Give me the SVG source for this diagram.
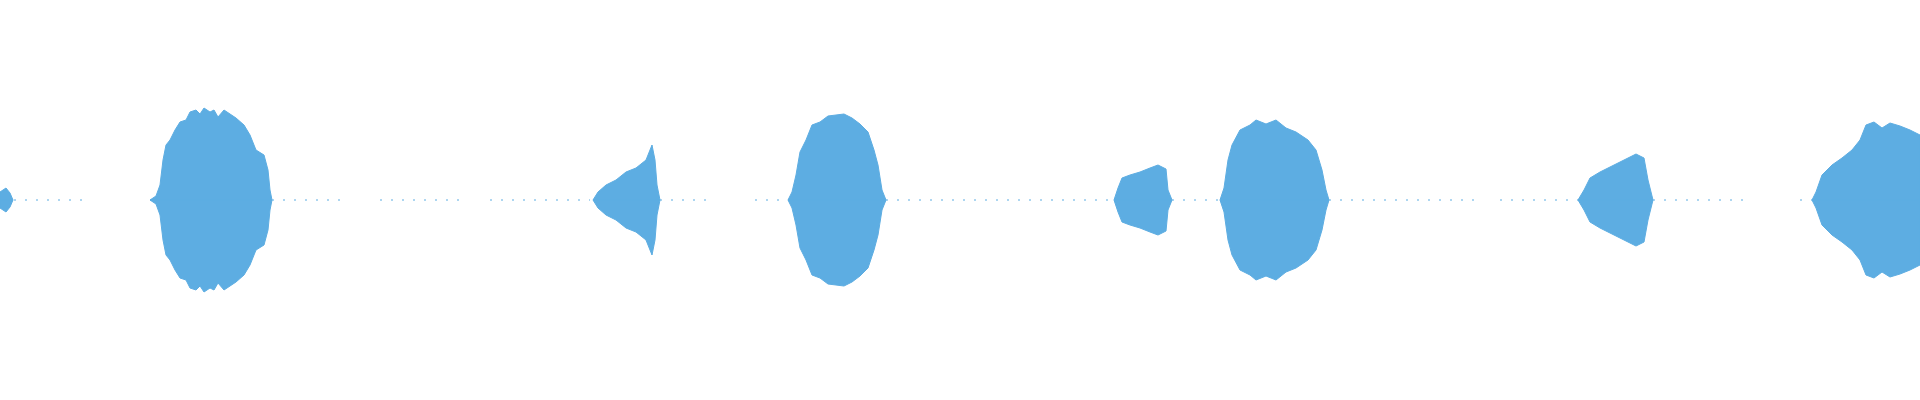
<svg xmlns="http://www.w3.org/2000/svg" width="1920" height="400" viewBox="0 0 1920 400">
<style>.w{fill:#5dade2;stroke:#5dade2;stroke-width:1}.d{stroke:#5dade2;stroke-width:1;stroke-dasharray:2 9;fill:none}</style>
<rect width="1920" height="400" fill="#fff"/>
<defs>
<path id="h" class="w" d="M0,200 L0,192 L6,188 L10,193 L13,200 Z
M150,200 L156,196 L160,185 L163,160 L166,145 L170,140 L175,130 L180,122 L186,120 L190,112 L196,110 L200,114 L204,108 L210,112 L214,110 L218,117 L224,110 L230,114 L236,118 L244,125 L250,135 L256,150 L264,155 L268,170 L270,190 L272,200 Z
M593,200 L598,192 L606,185 L616,180 L626,172 L636,168 L646,160 L652,145 L655,160 L657,185 L660,200 Z
M788,200 L792,192 L796,175 L800,152 L806,140 L812,125 L820,122 L828,116 L836,115 L844,114 L852,118 L860,124 L868,132 L874,150 L878,165 L882,190 L886,200 Z
M1114,200 L1118,188 L1122,178 L1130,175 L1140,172 L1150,168 L1158,165 L1166,169 L1168,190 L1172,200 Z
M1220,200 L1224,188 L1228,160 L1232,145 L1240,130 L1250,125 L1256,120 L1266,124 L1276,120 L1286,128 L1296,132 L1308,140 L1316,150 L1322,170 L1326,190 L1329,200 Z
M1578,200 L1584,190 L1590,178 L1600,172 L1612,166 L1624,160 L1636,154 L1644,158 L1648,180 L1653,200 Z
M1812,200 L1816,192 L1822,175 L1832,165 L1842,158 L1852,150 L1860,140 L1866,125 L1874,122 L1882,128 L1890,123 L1900,126 L1910,130 L1920,135 L1920,200 Z"/>
</defs>
<use href="#h"/>
<use href="#h" transform="matrix(1 0 0 -1 0 400)"/>
<path class="d" d="M14,200H90M272,200H340M380,200H460M490,200H590M660,200H710M755,200H790M886,200H1110M1172,200H1218M1329,200H1480M1500,200H1578M1653,200H1750M1800,200H1812"/>
</svg>
